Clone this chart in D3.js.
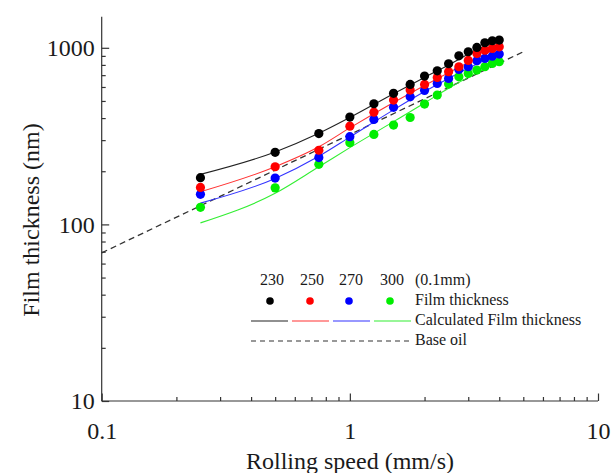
<!DOCTYPE html>
<html>
<head>
<meta charset="utf-8">
<script src="https://cdn.jsdelivr.net/npm/d3@7"></script>
<style>
	body { margin: 0; background: #fff; }
	svg text { font-family: "Liberation Serif", "Times New Roman", Tinos, "DejaVu Serif", serif !important; fill: #1a1a1a; }
</style>
</head>
<body>
<script>
// rolling speed (mm/s) of the measured points
var speeds = [0.25, 0.5, 0.75, 1, 1.25, 1.5, 1.75, 2, 2.25, 2.5, 2.75, 3, 3.25, 3.5, 3.75, 4];

// measured film thickness (nm), one array per ball size (0.1mm)
var film230 = [184, 256, 327, 405, 482, 552, 620, 692, 741, 812, 901, 950, 1005, 1068, 1096, 1106];
var film250 = [162, 212, 263, 360, 432, 506, 576, 620, 679, 732, 781, 848, 929, 970, 992, 1013];
var film270 = [148, 183, 239, 314, 393, 460, 528, 574, 628, 671, 754, 781, 845, 871, 897, 921];
var film300 = [125, 161, 219, 290, 323, 365, 403, 480, 540, 623, 685, 716, 748, 781, 815, 834];

// calculated film thickness (nm)
var calcSpeeds = [0.25, 0.5, 0.75, 1, 1.5, 2, 2.5, 3, 3.5, 4];
var calc230 = [192, 257, 328, 403, 550, 680, 800, 920, 1020, 1105];
var calc250 = [153, 212, 275, 352, 490, 612, 722, 825, 920, 1005];
var calc270 = [132, 182, 243, 312, 445, 565, 670, 765, 850, 925];
var calc300 = [102, 150, 212, 272, 382, 487, 590, 680, 760, 834];

// base oil line
var baseSpeeds = [0.1, 5];
var baseFilm = [69, 950];

var sizeLabels = ['230', '250', '270', '300'];
var colors = ['#000000', '#ff0000', '#0000ff', '#00ee00'];
var lineColors = ['#222222', '#ff3333', '#3333ff', '#33ee33'];

var xTicks = [0.1, 1, 10];
var yTicks = [10, 100, 1000];

var svgWidth = 612;
var svgHeight = 473;
var serif = '"Liberation Serif", "Times New Roman", Tinos, "DejaVu Serif", serif';

var svg = d3.select('body')
			.append('svg')
			.attr('width', svgWidth)
			.attr('height', svgHeight)
			.attr('font-family', serif);

var x = d3.scaleLog().domain([0.1, 10]).range([101.7, 598]);
var y = d3.scaleLog().domain([10, 1500]).range([401, 16.7]);

function minorsOf(lo, hi) {
	var out = [];
	for (var d = lo; d < hi; d *= 10) {
		for (var k = 1; k < 10; k++) {
			if (d * k <= hi) out.push(d * k);
		}
	}
	out.push(hi);
	return out;
}

function isMajor(v) {
	var l = Math.log10(v);
	return Math.abs(l - Math.round(l)) < 1e-9;
}

// x axis
var xAxis = svg.append('g')
	.attr('transform', 'translate(0,' + y(10) + ')')
	.call(d3.axisBottom(x)
		.tickValues(minorsOf(0.1, 10))
		.tickSizeInner(-7.5)
		.tickSizeOuter(0)
		.tickPadding(0)
		.tickFormat(function (d) { return xTicks.indexOf(+d.toPrecision(3)) >= 0 ? String(+d.toPrecision(3)) : ''; }));
xAxis.attr('font-family', serif);
xAxis.selectAll('.tick line')
	.attr('y2', function (d) { return isMajor(d) ? -7.5 : -4; });
xAxis.selectAll('.tick text')
	.attr('y', 21)
	.attr('font-size', 24);

// y axis
var yAxis = svg.append('g')
	.attr('transform', 'translate(' + x(0.1) + ',0)')
	.call(d3.axisLeft(y)
		.tickValues(minorsOf(10, 1000))
		.tickSizeInner(-7.5)
		.tickSizeOuter(0)
		.tickPadding(0)
		.tickFormat(function (d) { return yTicks.indexOf(Math.round(d)) >= 0 ? String(Math.round(d)) : ''; }));
yAxis.attr('font-family', serif);
yAxis.selectAll('.tick line')
	.attr('x2', function (d) { return isMajor(d) ? 7.5 : 4; });
yAxis.selectAll('.tick text')
	.attr('x', -7)
	.attr('font-size', 24);

svg.selectAll('.domain, .tick line')
	.attr('stroke', '#333')
	.attr('stroke-width', 1.2);
// extend y axis line to the top of the domain
yAxis.select('.domain').attr('d', 'M0,' + y(10) + 'V' + y(1500));
xAxis.select('.domain').attr('d', 'M' + x(0.1) + ',0H' + x(10));

// axis titles
svg.append('text')
	.attr('x', 350)
	.attr('y', 469)
	.attr('text-anchor', 'middle')
	.attr('font-size', 24)
	.text('Rolling speed (mm/s)');

svg.append('text')
	.attr('transform', 'translate(33,220) rotate(-90)')
	.attr('text-anchor', 'middle')
	.attr('dominant-baseline', 'middle')
	.attr('font-size', 24)
	.text('Film thickness (nm)');

var line = d3.line()
	.x(function (d) { return x(d[0]); })
	.y(function (d) { return y(d[1]); });

// base oil
svg.append('path')
	.datum(d3.zip(baseSpeeds, baseFilm))
	.attr('d', line)
	.attr('fill', 'none')
	.attr('stroke', '#333')
	.attr('stroke-width', 1.3)
	.attr('stroke-dasharray', '6,4');

var films = [film230, film250, film270, film300];
var calcs = [calc230, calc250, calc270, calc300];

var smooth = d3.line()
	.x(function (d) { return x(d[0]); })
	.y(function (d) { return y(d[1]); })
	.curve(d3.curveMonotoneX);

svg.selectAll('path.calc')
	.data(calcs)
	.enter()
	.append('path')
	.attr('class', 'calc')
	.attr('d', function (d) { return smooth(d3.zip(calcSpeeds, d)); })
	.attr('fill', 'none')
	.attr('stroke', function (d, i) { return lineColors[i]; })
	.attr('stroke-width', 1.1);

// draw green first so black ends up on top, like the picture
for (var s = films.length - 1; s >= 0; s--) {
	svg.append('g')
		.selectAll('circle')
		.data(d3.zip(speeds, films[s]))
		.enter()
		.append('circle')
		.attr('cx', function (d) { return x(d[0]); })
		.attr('cy', function (d) { return y(d[1]); })
		.attr('r', 4.6)
		.attr('fill', colors[s]);
}

// legend
var lg = svg.append('g');
var colX = [272, 312, 351, 392];
var textX = 415;
var rowY = [281, 301, 321, 341];

lg.selectAll('text.size')
	.data(sizeLabels)
	.enter()
	.append('text')
	.attr('x', function (d, i) { return colX[i]; })
	.attr('y', rowY[0])
	.attr('text-anchor', 'middle')
	.attr('dominant-baseline', 'middle')
	.attr('font-size', 16)
	.text(function (d) { return d; });

lg.selectAll('circle')
	.data(colors)
	.enter()
	.append('circle')
	.attr('cx', function (d, i) { return colX[i] - 2; })
	.attr('cy', rowY[1])
	.attr('r', 3.8)
	.attr('fill', function (d) { return d; });

lg.selectAll('line.seg')
	.data(lineColors)
	.enter()
	.append('line')
	.attr('x1', function (d, i) { return 251 + i * 41; })
	.attr('x2', function (d, i) { return 288 + i * 41; })
	.attr('y1', rowY[2])
	.attr('y2', rowY[2])
	.attr('stroke', function (d) { return d; })
	.attr('stroke-width', 1.1);

lg.append('line')
	.attr('x1', 251)
	.attr('x2', 411)
	.attr('y1', rowY[3])
	.attr('y2', rowY[3])
	.attr('stroke', '#333')
	.attr('stroke-width', 1.2)
	.attr('stroke-dasharray', '5,4');

var legendTexts = ['(0.1mm)', 'Film thickness', 'Calculated Film thickness', 'Base oil'];
lg.selectAll('text.lab')
	.data(legendTexts)
	.enter()
	.append('text')
	.attr('x', textX)
	.attr('y', function (d, i) { return rowY[i]; })
	.attr('dominant-baseline', 'middle')
	.attr('font-size', 16)
	.text(function (d) { return d; });
</script>
</body>
</html>
